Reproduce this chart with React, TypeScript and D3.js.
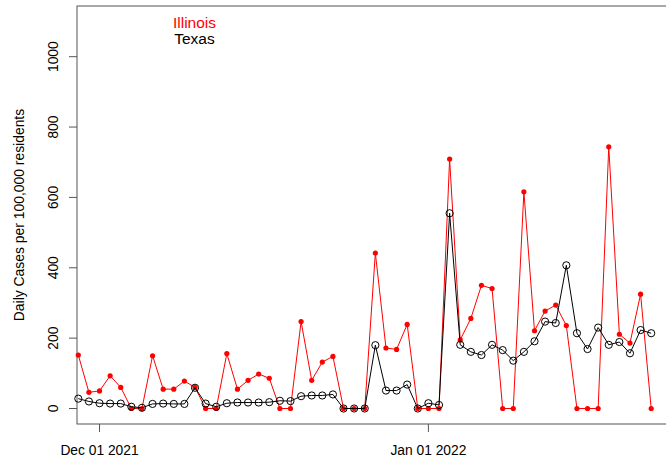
import React, { useEffect, useRef } from "react";
import * as d3 from "d3";

const WIDTH = 666;
const HEIGHT = 462;

// Daily reported cases per 100,000 residents, one value per day starting 29 Nov 2021
const startDate = new Date(2021, 10, 29);
const illinois = [
  152, 46, 50, 93, 60, 0, 0, 150, 55, 55, 78, 60, 0, 0, 156, 55,
  80, 98, 86, 0, 0, 247, 80, 132, 148, 0, 0, 0, 442, 172, 168, 239,
  0, 0, 0, 709, 195, 256, 350, 341, 0, 0, 616, 221, 277, 294, 236,
  0, 0, 0, 744, 211, 186, 325, 0,
];
const texas = [
  28, 20, 15, 14, 14, 5, 2, 13, 14, 13, 13, 59, 14, 5, 15, 17,
  17, 17, 18, 22, 21, 35, 37, 37, 40, 0, 0, 0, 180, 51, 51, 68,
  0, 15, 10, 555, 181, 161, 152, 181, 166, 136, 161, 191, 247, 243, 407,
  214, 169, 230, 181, 189, 157, 223, 214,
];
const yTicks = [0, 200, 400, 600, 800, 1000];
const xTickDates = [new Date(2021, 11, 1), new Date(2022, 0, 1)];
const legendLabels = ["Illinois", "Texas"];
const legendColors = ["#ff0000", "#000000"];

const dayMs = 24 * 3600 * 1000;
const dateAt = (i: number) => new Date(startDate.getTime() + i * dayMs);

export default function App() {
  const ref = useRef<SVGSVGElement | null>(null);

  useEffect(() => {
    document.body.style.margin = "0";
    const svg = d3.select(ref.current);
    svg.selectAll("*").remove();

    const plotLeft = 77;
    const plotTop = 6;
    const plotBottom = 424;
    const plotRight = 672;

    const x = d3
      .scaleTime()
      .domain([startDate, dateAt(illinois.length - 1)])
      .range([78.3, 651.2]);
    const y = d3.scaleLinear().domain([0, 1000]).range([408.5, 56.7]);

    const font = "Liberation Sans, Arial, sans-serif";

    // plot frame
    svg
      .append("rect")
      .attr("x", plotLeft)
      .attr("y", plotTop)
      .attr("width", plotRight - plotLeft)
      .attr("height", plotBottom - plotTop)
      .attr("fill", "none")
      .attr("stroke", "#555")
      .attr("stroke-width", 1);

    // y axis ticks and labels
    const yg = svg.append("g");
    yTicks.forEach((t) => {
      yg.append("line")
        .attr("x1", plotLeft - 8)
        .attr("x2", plotLeft)
        .attr("y1", y(t))
        .attr("y2", y(t))
        .attr("stroke", "#555");
      yg.append("text")
        .attr("transform", `translate(53,${y(t)}) rotate(-90)`)
        .attr("text-anchor", "middle")
        .attr("dominant-baseline", "central")
        .attr("font-family", font)
        .attr("font-size", 13.8)
        .attr("fill", "#000")
        .text(String(t));
    });

    // x axis ticks and labels
    const fmt = d3.timeFormat("%b %d %Y");
    xTickDates.forEach((d) => {
      svg
        .append("line")
        .attr("x1", x(d))
        .attr("x2", x(d))
        .attr("y1", plotBottom)
        .attr("y2", plotBottom + 8)
        .attr("stroke", "#555");
      svg
        .append("text")
        .attr("x", x(d))
        .attr("y", 455)
        .attr("text-anchor", "middle")
        .attr("font-family", font)
        .attr("font-size", 13.8)
        .attr("fill", "#000")
        .text(fmt(d));
    });

    // y axis title
    svg
      .append("text")
      .attr("transform", `translate(19,215) rotate(-90)`)
      .attr("text-anchor", "middle")
      .attr("dominant-baseline", "central")
      .attr("font-family", font)
      .attr("font-size", 13.9)
      .attr("fill", "#000")
      .text("Daily Cases per 100,000 residents");

    const line = d3
      .line<number>()
      .x((_, i) => x(dateAt(i)))
      .y((v) => y(v));

    // Illinois: red line with filled dots
    svg
      .append("path")
      .attr("d", line(illinois) || "")
      .attr("fill", "none")
      .attr("stroke", "#ff0000")
      .attr("stroke-width", 1);
    svg
      .append("g")
      .selectAll("circle")
      .data(illinois)
      .join("circle")
      .attr("cx", (_, i) => x(dateAt(i)))
      .attr("cy", (v) => y(v))
      .attr("r", 2.6)
      .attr("fill", "#ff0000");

    // Texas: black line with open circles
    svg
      .append("path")
      .attr("d", line(texas) || "")
      .attr("fill", "none")
      .attr("stroke", "#000")
      .attr("stroke-width", 1);
    svg
      .append("g")
      .selectAll("circle")
      .data(texas)
      .join("circle")
      .attr("cx", (_, i) => x(dateAt(i)))
      .attr("cy", (v) => y(v))
      .attr("r", 3.6)
      .attr("fill", "none")
      .attr("stroke", "#000")
      .attr("stroke-width", 1);

    // legend (text only)
    legendLabels.forEach((label, i) => {
      svg
        .append("text")
        .attr("x", 194.5)
        .attr("y", 28 + i * 16)
        .attr("text-anchor", "middle")
        .attr("font-family", font)
        .attr("font-size", 15.5)
        .attr("fill", legendColors[i])
        .text(label);
    });
  }, []);

  return (
    <svg
      ref={ref}
      width={WIDTH}
      height={HEIGHT}
      style={{ display: "block", background: "#fff" }}
    />
  );
}
